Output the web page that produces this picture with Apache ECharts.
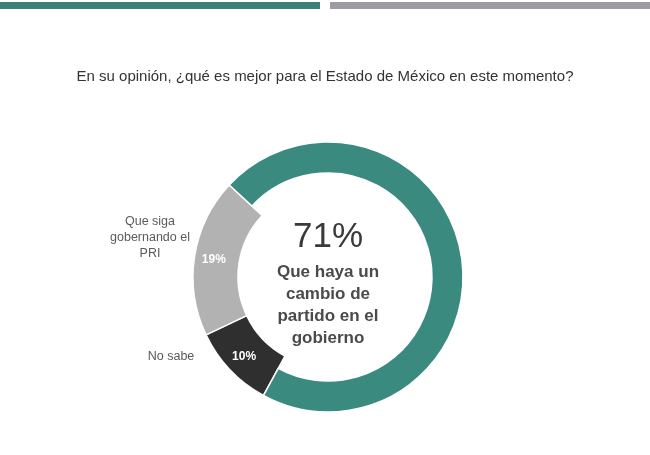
<!DOCTYPE html>
<html>
<head>
<meta charset="utf-8">
<script src="https://cdn.jsdelivr.net/npm/echarts@6/dist/echarts.min.js"></script>
<style>
html,body{margin:0;padding:0;background:#fff;}
#chart{width:650px;height:455px;}
</style>
</head>
<body>
<div id="chart"></div>
<script>
var titleText = 'En su opinión, ¿qué es mejor para el Estado de México en este momento?';
var categories = ['Que haya un cambio de partido en el gobierno', 'No sabe', 'Que siga gobernando el PRI'];
var values = [71, 10, 19];
var colors = ['#3b8a7f', '#2f2f2f', '#b2b2b2'];
var centerLines = ['Que haya un', 'cambio de', 'partido en el', 'gobierno'];
var sideLabelPRI = ['Que siga', 'gobernando el', 'PRI'];
var sideLabelNS = ['No sabe'];

var FONT = '"Liberation Sans", Arial, sans-serif';
var chart = echarts.init(document.getElementById('chart'), null, {renderer: 'canvas'});

var CX = 328, CY = 277;

// bottom ring (thicker), teal hidden
var dataBottom = values.map(function (v, i) {
  return {
    value: v,
    name: categories[i],
    itemStyle: i === 0 ? {color: 'rgba(0,0,0,0)', borderWidth: 0} : {color: colors[i], borderColor: '#fff', borderWidth: 1.5},
    label: i === 0 ? {show: false} : {
      show: true, position: 'inside',
      formatter: function (p) { return p.value + '%'; },
      color: '#fff', fontSize: 12, fontWeight: 'bold', fontFamily: FONT
    }
  };
});

// top ring (teal), others hidden
var dataTop = values.map(function (v, i) {
  return {
    value: v,
    name: categories[i],
    itemStyle: i === 0 ? {color: colors[0], borderColor: '#fff', borderWidth: 1.5} : {color: 'rgba(0,0,0,0)', borderWidth: 0},
    label: i === 0 ? {
      show: true, position: 'center',
      padding: [8, 0, 0, 0],
      formatter: function (p) {
        return '{a|' + p.value + '%}\n' + centerLines.map(function (l) { return '{b|' + l + '}'; }).join('\n');
      },
      rich: {
        a: {fontSize: 35, color: '#3a3a3a', fontFamily: FONT, lineHeight: 48, align: 'center'},
        b: {fontSize: 17, fontWeight: 'bold', color: '#4a4a4a', fontFamily: FONT, lineHeight: 22, align: 'center'}
      }
    } : {show: false}
  };
});

function sideText(lines, x, y) {
  return {
    type: 'text', x: x, y: y, silent: true,
    style: {
      text: lines.join('\n'), fill: '#5a5a5a', font: '12.5px ' + FONT,
      align: 'center', verticalAlign: 'top', lineHeight: 16
    }
  };
}

chart.setOption({
  animation: false,
  backgroundColor: '#fff',
  title: {
    text: titleText, left: 'center', top: 64,
    textStyle: {fontSize: 15, fontWeight: 'normal', color: '#333', fontFamily: FONT}
  },
  graphic: [
    {type: 'rect', shape: {x: 0, y: 2, width: 320, height: 7}, style: {fill: '#3d8075'}, silent: true},
    {type: 'rect', shape: {x: 330, y: 2, width: 320, height: 7}, style: {fill: '#9b9da3'}, silent: true},
    sideText(sideLabelPRI, 150, 214),
    sideText(sideLabelNS, 171, 349)
  ],
  series: [
    {
      type: 'pie', center: [CX, CY], radius: [90, 135], startAngle: 137, clockwise: true,
      silent: true, labelLine: {show: false}, emphasis: {disabled: true},
      data: dataBottom
    },
    {
      type: 'pie', center: [CX, CY], radius: [104, 135], startAngle: 137, clockwise: true,
      silent: true, labelLine: {show: false}, emphasis: {disabled: true},
      data: dataTop
    }
  ]
});
</script>
</body>
</html>
